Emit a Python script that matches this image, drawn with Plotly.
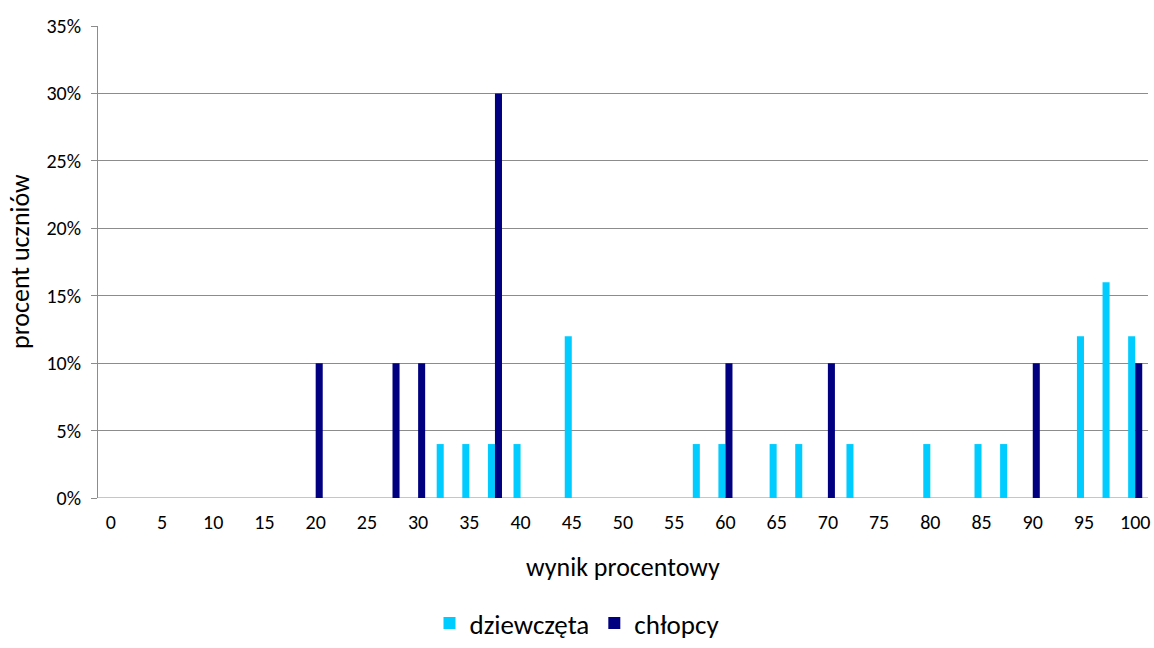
import plotly.graph_objects as go

# Data (percent of students per score category)
girls_x = [32.5, 35, 37.5, 40, 45, 57.5, 60, 65, 67.5, 72.5, 80, 85, 87.5, 95, 97.5, 100]
girls_y = [4, 4, 4, 4, 12, 4, 4, 4, 4, 4, 4, 4, 4, 12, 16, 12]
boys_x = [20, 27.5, 30, 37.5, 60, 70, 90, 100]
boys_y = [10, 10, 10, 30, 10, 10, 10, 10]
tick_vals = list(range(0, 101, 5))
y_ticks = [0, 5, 10, 15, 20, 25, 30, 35]

FONT = "Carlito, Calibri, Lato, sans-serif"

fig = go.Figure()
fig.add_trace(go.Bar(x=girls_x, y=girls_y, name="dziewczęta", marker_color="#00CCFF",
                     marker_line_width=0))
fig.add_trace(go.Bar(x=boys_x, y=boys_y, name="chłopcy", marker_color="#000080",
                     marker_line_width=0))

fig.update_layout(
    width=1154, height=648,
    margin=dict(l=98, r=6, t=26, b=150, autoexpand=False),
    paper_bgcolor="white", plot_bgcolor="white",
    barmode="group", bargap=0.45, bargroupgap=0,
    font=dict(family=FONT, size=20, color="black"),
    showlegend=True,
    legend=dict(orientation="h", xref="container", yref="container", x=0.5, xanchor="center",
                y=-0.03, yanchor="bottom",
                font=dict(size=27), itemwidth=30, traceorder="normal"),
    xaxis=dict(range=[-1.25, 101.25], tickmode="array", tickvals=tick_vals,
               ticktext=[str(v) for v in tick_vals], showgrid=False, zeroline=False,
               showline=False, ticks="", tickfont=dict(size=20), ticklabelstandoff=10),
    yaxis=dict(range=[0, 35], tickmode="array", tickvals=y_ticks,
               ticktext=[f"{v}%" for v in y_ticks], showgrid=True, gridcolor="#8C8C8C",
               gridwidth=1, zeroline=False, showline=True, linecolor="#8C8C8C",
               ticks="outside", ticklen=6, tickcolor="#8C8C8C", tickfont=dict(size=20),
               ticklabelstandoff=6),
    annotations=[
        dict(text="wynik procentowy", xref="paper", yref="paper", x=(623 - 98) / 1050,
             y=-(567 - 498) / 472,
             xanchor="center", yanchor="middle", showarrow=False, font=dict(size=26)),
        dict(text="procent uczniów", xref="paper", yref="paper", x=-(98 - 20) / 1050,
             y=0.5, xanchor="center", yanchor="middle", textangle=-90, showarrow=False,
             font=dict(size=26)),
    ],
)
fig.add_shape(type="line", xref="paper", yref="y", x0=0, x1=1, y0=0, y1=0,
              line=dict(color="#8C8C8C", width=1), layer="below")

fig.write_html("out.html", config={"displayModeBar": False},
               post_script="document.body.style.margin='0';")
